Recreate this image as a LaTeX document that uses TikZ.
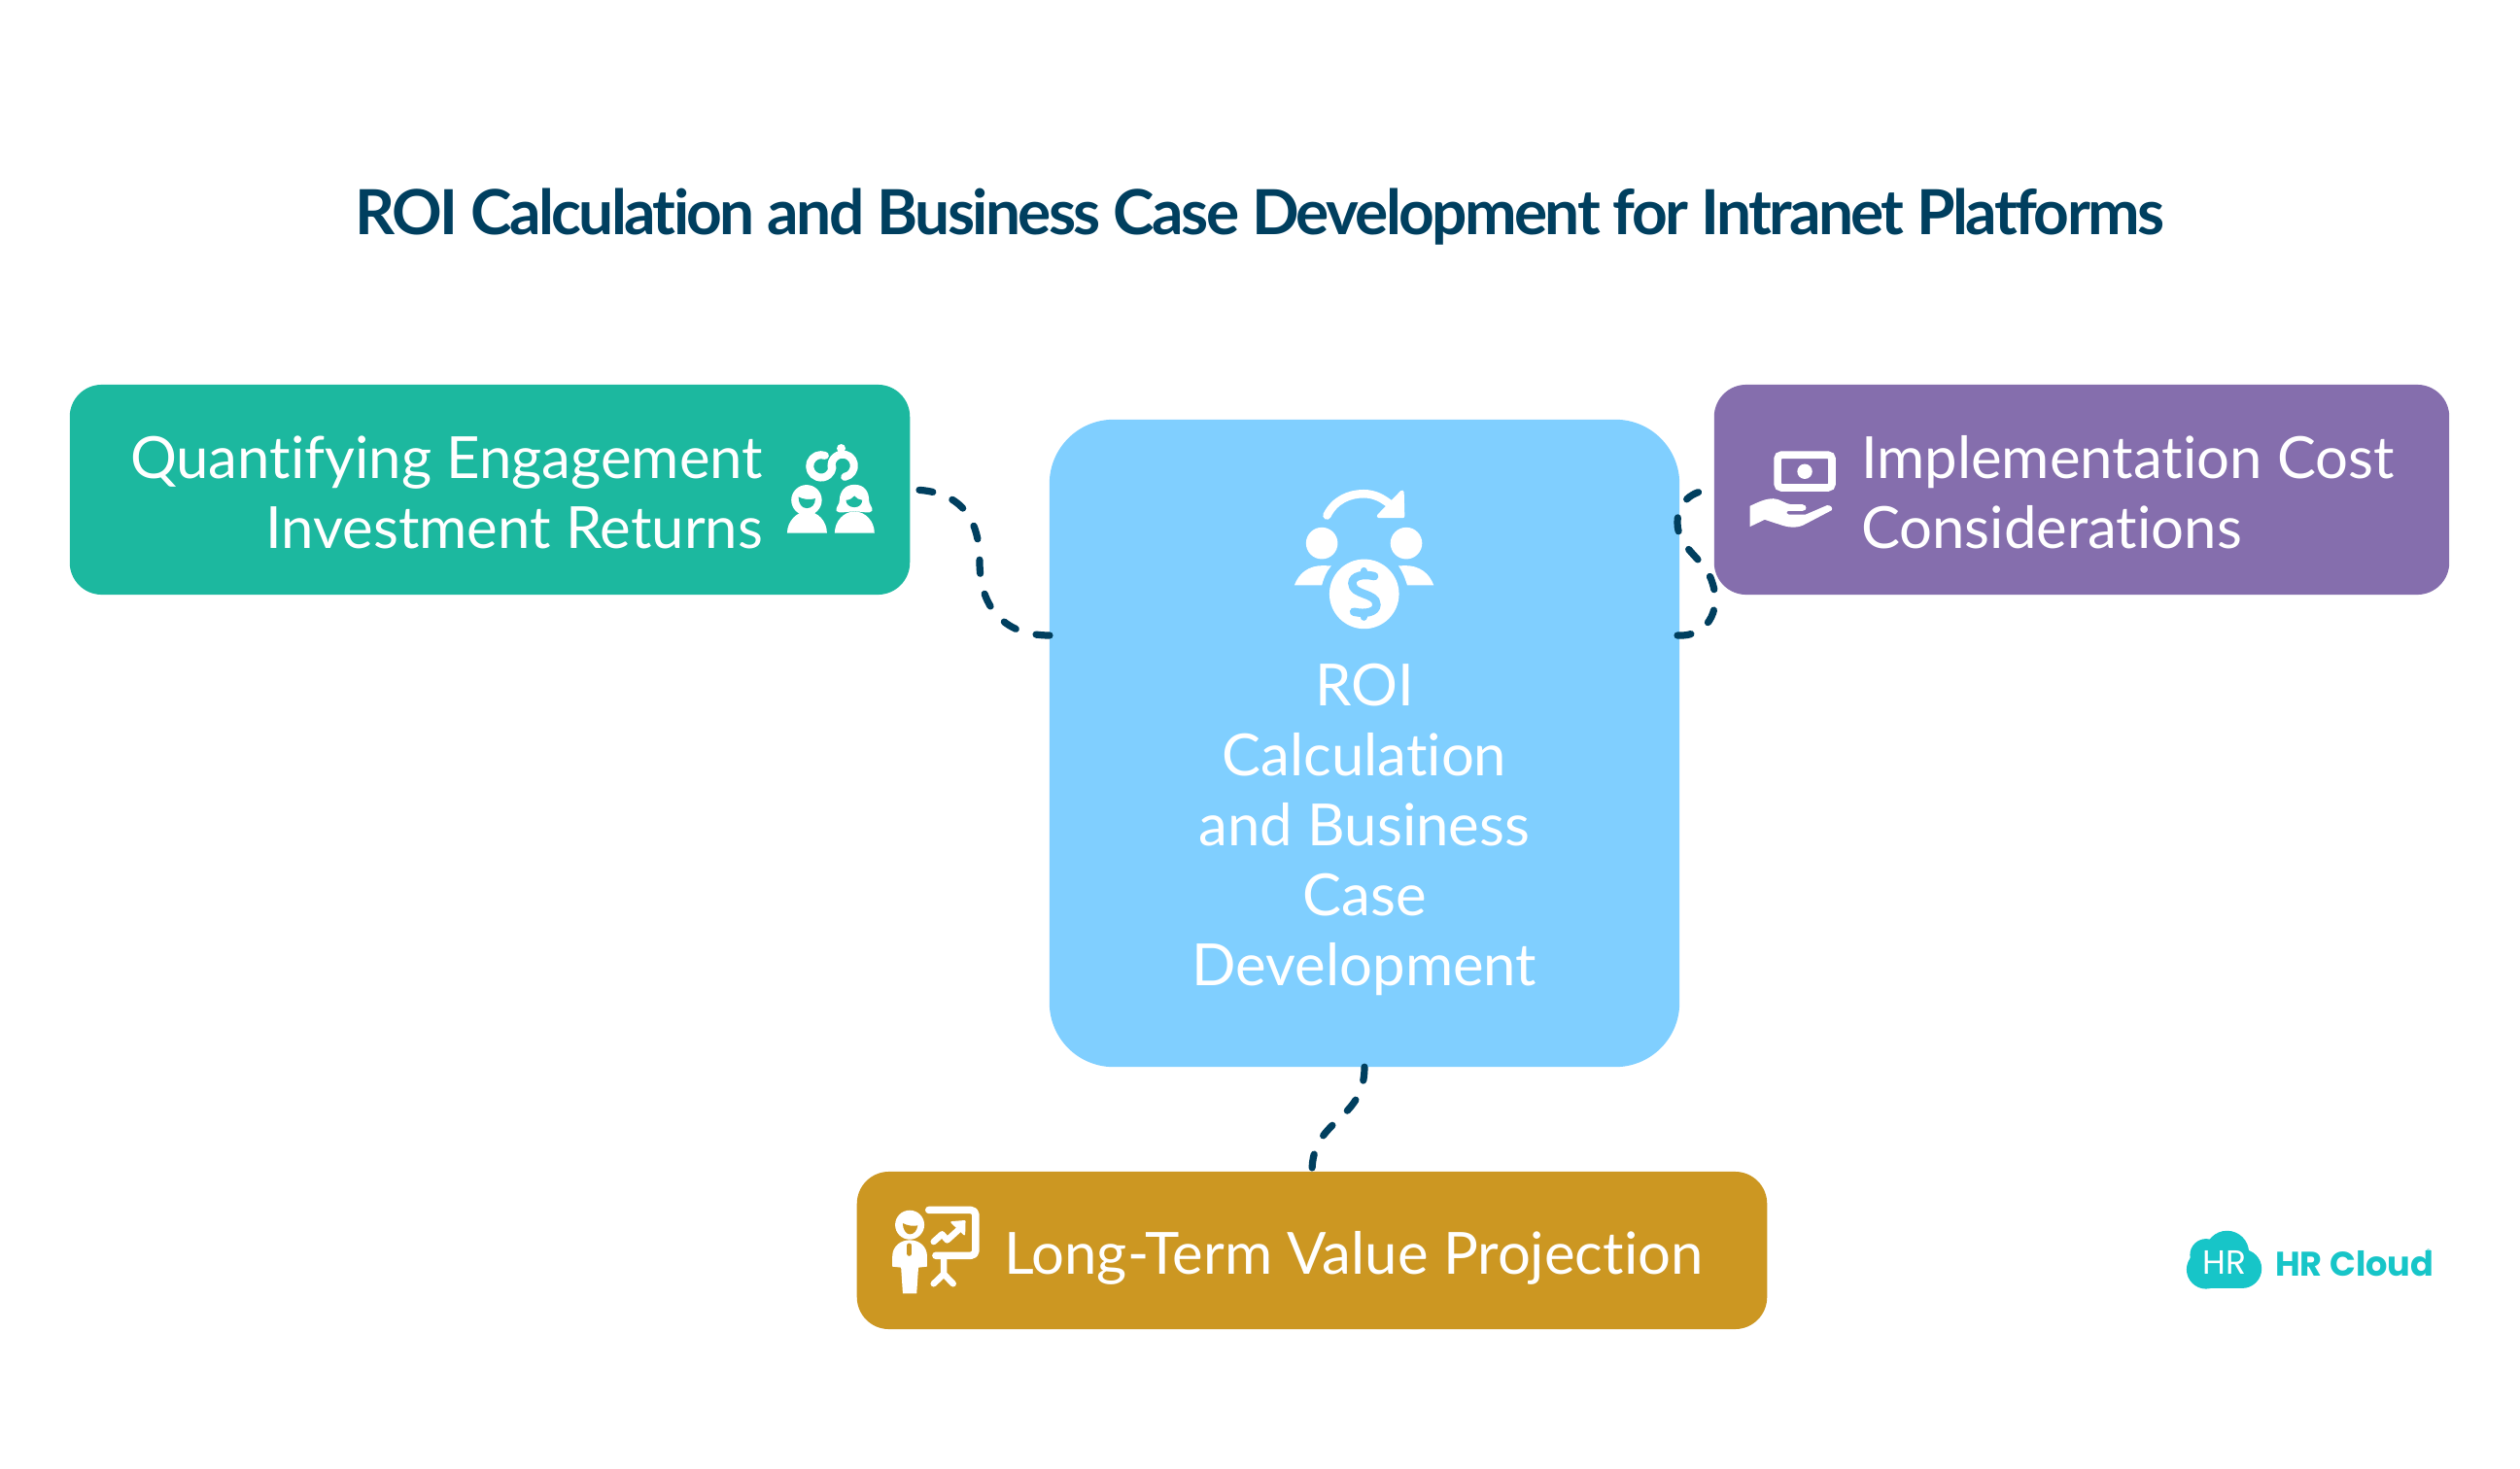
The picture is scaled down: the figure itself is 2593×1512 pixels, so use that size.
\documentclass[tikz,border=0pt]{standalone}
\usepackage{fontspec}
\setmainfont{Lato}[Ligatures=NoCommon]
\newfontfamily\titlefont{Lato}[Ligatures=NoCommon,LetterSpace=-4.1]
\newfontfamily\logofont{Poppins}
\definecolor{cgreen}{HTML}{1CB89F}
\definecolor{cblue}{HTML}{80CFFF}
\definecolor{cpurple}{HTML}{856EAD}
\definecolor{cgold}{HTML}{CC9722}
\definecolor{cnavy}{HTML}{003F5F}
\definecolor{clogo}{HTML}{17C5C8}
\tikzset{
  boxnode/.style={inner sep=0pt,outer sep=0pt,draw=none,rounded corners=0.33cm},
  lab/.style={text=white,inner sep=0pt,outer sep=0pt,font=\fontsize{17.02pt}{20.5pt}\selectfont},
  conn/.style={draw=cnavy,line width=0.072cm,line cap=round,dash pattern=on 0.14cm off 0.216cm},
  iconfill/.style={fill=white,draw=none},
  iconline/.style={draw=white,line cap=round,line join=round},
}
\begin{document}
\begin{tikzpicture}[x=0.01cm,y=-0.01cm]
\useasboundingbox (0,0) rectangle (2593,1512);
\fill[white] (0,0) rectangle (2593,1512);
% boxes
\node[boxnode,fill=cgreen,minimum width=8.64cm,minimum height=2.16cm] (green) at (504,504) {};
\node[boxnode,fill=cpurple,minimum width=7.56cm,minimum height=2.16cm] (purple) at (2142,504) {};
\node[boxnode,fill=cgold,minimum width=9.36cm,minimum height=1.62cm] (gold) at (1350,1287) {};
\node[boxnode,fill=cblue,minimum width=6.48cm,minimum height=6.66cm,rounded corners=0.66cm] (blue) at (1404,765) {};
% title
\node[inner sep=0pt,text=cnavy,font=\titlefont\fontsize{18.2pt}{22pt}\selectfont\bfseries] (title) at (1296,223) {ROI Calculation and Business Case Development for Intranet Platforms};
% labels
\node[lab,anchor=east,align=right] (tgreen) at (785,507) {Quantifying Engagement\\Investment Returns};
\node[lab,anchor=west,align=left] (tpurple) at (1915,507) {Implementation Cost\\Considerations};
\node[lab,anchor=west] (tgold) at (1033,1295) {Long-Term Value Projection};
\node[lab,align=center] (tblue) at (1404,854) {ROI\\Calculation\\and Business\\Case\\Development};
% connectors
\coordinate (blueL) at (1080,654);
\coordinate (blueR) at (1726,654);
\coordinate (gm) at (1008,578);
\coordinate (pm1) at (1762,600);
\coordinate (pm2) at (1726,538);
\draw[conn] (blueL) .. controls (1030,654) and (1008,622) .. (gm) .. controls (1008,535) and (990,504) .. (green.east);
\draw[conn] (blueR) .. controls (1755,656) and (1772,630) .. (pm1) .. controls (1755,575) and (1726,565) .. (pm2) .. controls (1726,518) and (1740,504) .. (purple.west);
\draw[conn] (blue.south) .. controls (1404,1155) and (1350,1150) .. (gold.north);
% green icon
\begin{scope}[shift={(780,380)},x=0.003333cm,y=-0.003333cm]
  \draw[iconline,line width=0.08cm] (207,267) arc[start angle=70,end angle=355,radius=0.117cm];
  \draw[iconline,line width=0.08cm] (268,333) arc[start angle=-80,end angle=195,radius=0.117cm];
  \fill[white] (257,245) circle[radius=0.045cm];
  \fill[iconfill] (90,507) .. controls (90,470) and (120,440) .. (151,440) .. controls (185,440) and (213,470) .. (213,507) -- cycle;
  \fill[white] (150,405) circle[radius=0.157cm];
  \fill[cgreen] (125,395) .. controls (140,403) and (160,405) .. (177,400) .. controls (177,420) and (165,430) .. (150,430) .. controls (135,430) and (125,415) .. (125,395) -- cycle;
  \fill[iconfill] (237,507) .. controls (237,470) and (265,440) .. (298,440) .. controls (332,440) and (360,470) .. (360,507) -- cycle;
  \fill[iconfill] (298,357) .. controls (330,357) and (343,380) .. (343,405) .. controls (343,420) and (355,425) .. (353,438) .. controls (345,448) and (325,440) .. (298,440) .. controls (272,440) and (250,448) .. (242,438) .. controls (240,425) and (252,420) .. (252,405) .. controls (252,380) and (268,357) .. (298,357) -- cycle;
  \fill[cgreen] (272,405) .. controls (285,405) and (292,398) .. (298,392) .. controls (303,398) and (312,405) .. (322,405) .. controls (322,418) and (312,427) .. (298,427) .. controls (283,427) and (272,418) .. (272,405) -- cycle;
\end{scope}
% blue icon
\begin{scope}[shift={(1240,440)},x=0.003333cm,y=-0.003333cm]
  \draw[iconline,line width=0.085cm] (377,272) .. controls (400,225) and (445,205) .. (490,205) .. controls (525,205) and (550,220) .. (575,240);
  \fill[white,draw=white,line width=0.04cm,line join=round] (537,274) -- (609,200) -- (611,274) -- cycle;
  \fill[white] (361,358) circle[radius=0.163cm];
  \fill[white] (622,358) circle[radius=0.163cm];
  \fill[iconfill] (276,488) .. controls (290,450) and (320,427) .. (365,427) -- (390,428) .. controls (375,445) and (367,465) .. (361,488) -- cycle;
  \fill[iconfill] (707,488) .. controls (693,450) and (663,427) .. (618,427) -- (598,428) .. controls (610,445) and (618,465) .. (625,488) -- cycle;
  \fill[white] (492,515) circle[radius=0.358cm];
  \draw[cblue,line width=0.085cm,line cap=round] (523,460) .. controls (490,452) and (455,458) .. (455,482) .. controls (455,520) and (530,510) .. (530,548) .. controls (530,572) and (495,578) .. (460,570);
  \draw[cblue,line width=0.07cm,line cap=round] (490,443) -- (490,458) (490,572) -- (490,587);
\end{scope}
% purple icon
\begin{scope}[shift={(1690,440)},x=0.003333cm,y=-0.003333cm]
  \draw[white,line width=0.077cm,rounded corners=0.04cm] (418,85) rectangle (586,186);
  \fill[white] (502,136) circle[radius=0.077cm];
  \fill[iconfill] (332,243) .. controls (360,230) and (380,220) .. (405,220) .. controls (425,220) and (445,238) .. (460,238) -- (495,238) .. controls (510,240) and (510,257) .. (495,258) -- (450,258) .. controls (442,260) and (445,269) .. (452,269) -- (505,269) -- (570,241) .. controls (582,238) and (590,250) .. (585,256) -- (505,298) .. controls (485,310) and (460,312) .. (430,302) -- (378,285) -- (332,307) -- cycle;
\end{scope}
% gold icon
\begin{scope}[shift={(880,1080)},x=0.00357cm,y=-0.003333cm]
  \fill[white] (157,543) circle[radius=0.15cm];
  \fill[cgold] (137,538) .. controls (150,545) and (165,548) .. (180,545) .. controls (178,560) and (170,572) .. (157,572) .. controls (145,572) and (137,555) .. (137,538) -- cycle;
  \fill[iconfill] (157,590) .. controls (185,590) and (207,610) .. (207,640) -- (207,672) -- (182,675) -- (177,755) -- (137,755) -- (132,675) -- (107,672) -- (107,640) .. controls (107,610) and (130,590) .. (157,590) -- cycle;
  \draw[cgold,line width=0.05cm,line cap=round] (156,607) -- (156,632);
  \draw[iconline,line width=0.075cm,rounded corners=0.05cm] (212,497) -- (347,497) -- (347,638) -- (232,638);
  \draw[iconline,line width=0.065cm] (255,640) -- (255,695) -- (226,725) (255,695) -- (282,725);
  \draw[iconline,line width=0.065cm] (226,595) -- (250,572) -- (265,590) -- (298,558);
  \fill[white,draw=white,line width=0.02cm,line join=round] (278,535) -- (315,532) -- (314,572) -- cycle;
\end{scope}
% logo
\begin{scope}[shift={(2220,1250)},x=0.003333cm,y=-0.003333cm]
  \fill[clogo] (150,170) circle[radius=0.20cm];
  \fill[clogo] (262,168) circle[radius=0.20cm];
  \fill[clogo] (150,125) circle[radius=0.165cm];
  \fill[clogo] (215,118) circle[radius=0.225cm];
  \fill[clogo] (150,130) rectangle (262,228);
  \node[text=white,inner sep=0pt,font=\logofont\fontsize{9.8pt}{10pt}\selectfont] (logoHR) at (207,150) {HR};
  \node[text=clogo,inner sep=0pt,anchor=west,font=\logofont\bfseries\fontsize{10pt}{10pt}\selectfont] (logoT) at (362,152) {HR Cloud};
  \node[text=clogo,inner sep=0pt,font=\logofont\fontsize{3pt}{4pt}\selectfont] (logoR) at (838,120) {®};
\end{scope}
\end{tikzpicture}
\end{document}
